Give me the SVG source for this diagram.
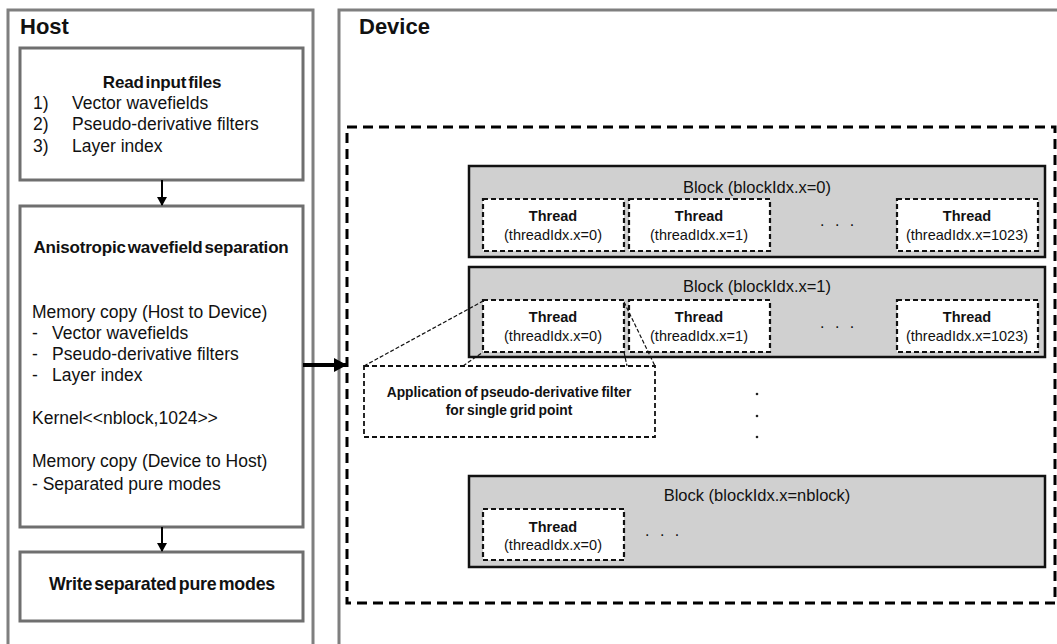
<svg xmlns="http://www.w3.org/2000/svg" width="1057" height="644" viewBox="0 0 1057 644">
  <defs>
    <marker id="headSmall" markerWidth="10" markerHeight="10" refX="8" refY="5" orient="auto" markerUnits="userSpaceOnUse">
      <path d="M0,0 L9,5 L0,10 Z" fill="#000"/>
    </marker>
    <marker id="headBig" markerWidth="14" markerHeight="14" refX="12" refY="7" orient="auto" markerUnits="userSpaceOnUse">
      <path d="M0,0 L13,7 L0,14 Z" fill="#000"/>
    </marker>
  </defs>
  <style>
    .panel { fill: #fff; stroke: #7f7f7f; stroke-width: 3; }
    .step { fill: #fff; stroke: #6f6f6f; stroke-width: 3; }
    .grid { fill: none; stroke: #000; stroke-width: 3; stroke-dasharray: 10 6; }
    .block { fill: #d0d0d0; stroke: #111; stroke-width: 2.5; }
    .thread { fill: #fff; stroke: #111; stroke-width: 2.2; stroke-dasharray: 5 3; }
    .zoom { fill: #fff; stroke: #111; stroke-width: 1.8; stroke-dasharray: 5 3; }
    .zoomline { fill: none; stroke: #111; stroke-width: 1.2; stroke-dasharray: 4 2; }
    text { font-family: "Liberation Sans", Arial, sans-serif; fill: #111; }
    .h { font-size: 22px; font-weight: bold; }
    .t { font-size: 17px; font-weight: bold; word-spacing: -2.5px; letter-spacing: -0.2px; text-anchor: middle; }
    .b { font-size: 17.5px; }
    .blk { font-size: 16.5px; text-anchor: middle; }
    .th { font-size: 14.5px; font-weight: bold; text-anchor: middle; }
    .ti { font-size: 14.5px; text-anchor: middle; }
    .ct { font-size: 13.8px; font-weight: bold; word-spacing: -1px; text-anchor: middle; }
    .dots { font-size: 16px; letter-spacing: 3px; }
    .wire { stroke: #000; stroke-width: 2; fill: none; }
    .wireBig { stroke: #000; stroke-width: 4; fill: none; }
  </style>

  <!-- Host panel -->
  <g id="host">
    <rect class="panel" x="8" y="10" width="305" height="660"/>
    <text class="h" x="20" y="34">Host</text>
  </g>

  <!-- Device panel -->
  <g id="device">
    <rect class="panel" x="339" y="10" width="740" height="660"/>
    <text class="h" x="359" y="34">Device</text>
  </g>

  <g id="read-input">
    <rect class="step" x="20" y="48" width="283" height="132"/>
    <text class="t" x="162" y="88">Read input files</text>
    <text class="b" x="33" y="109">1)</text>
    <text class="b" x="72" y="109">Vector wavefields</text>
    <text class="b" x="33" y="130">2)</text>
    <text class="b" x="72" y="130">Pseudo-derivative filters</text>
    <text class="b" x="33" y="152">3)</text>
    <text class="b" x="72" y="152">Layer index</text>
  </g>

  <g id="separation">
    <rect class="step" x="20" y="206" width="283" height="321"/>
    <text class="t" x="161" y="253">Anisotropic wavefield separation</text>
    <text class="b" x="32" y="318">Memory copy (Host to Device)</text>
    <text class="b" x="32" y="339">-</text>
    <text class="b" x="52" y="339">Vector wavefields</text>
    <text class="b" x="32" y="360">-</text>
    <text class="b" x="52" y="360">Pseudo-derivative filters</text>
    <text class="b" x="32" y="381">-</text>
    <text class="b" x="52" y="381">Layer index</text>
    <text class="b" x="32" y="424">Kernel&lt;&lt;nblock,1024&gt;&gt;</text>
    <text class="b" x="32" y="467">Memory copy (Device to Host)</text>
    <text class="b" x="32" y="490">- Separated pure modes</text>
  </g>

  <g id="write-output">
    <rect class="step" x="20" y="552" width="283" height="69"/>
    <text class="t" x="162" y="590" style="font-size:17.8px">Write separated pure modes</text>
  </g>

  <!-- Grid of blocks -->
  <g id="grid">
    <rect class="grid" x="347" y="127" width="708" height="476"/>
  </g>

  <g id="block-0">
    <rect class="block" x="469" y="166" width="576" height="91"/>
    <text class="blk" x="757" y="193">Block (blockIdx.x=0)</text>
    <rect class="thread" x="483" y="199" width="141" height="52"/>
    <text class="th" x="553" y="221">Thread</text>
    <text class="ti" x="553" y="240">(threadIdx.x=0)</text>
    <rect class="thread" x="629" y="199" width="141" height="52"/>
    <text class="th" x="699" y="221">Thread</text>
    <text class="ti" x="699" y="240">(threadIdx.x=1)</text>
    <text class="dots" x="820" y="226">. . .</text>
    <rect class="thread" x="897" y="199" width="141" height="52"/>
    <text class="th" x="967" y="221">Thread</text>
    <text class="ti" x="967" y="240">(threadIdx.x=1023)</text>
  </g>

  <g id="block-1">
    <rect class="block" x="469" y="267" width="576" height="90"/>
    <text class="blk" x="757" y="292">Block (blockIdx.x=1)</text>
    <rect class="thread" x="483" y="300" width="141" height="52"/>
    <text class="th" x="553" y="322">Thread</text>
    <text class="ti" x="553" y="341">(threadIdx.x=0)</text>
    <rect class="thread" x="629" y="300" width="141" height="52"/>
    <text class="th" x="699" y="322">Thread</text>
    <text class="ti" x="699" y="341">(threadIdx.x=1)</text>
    <text class="dots" x="820" y="328">. . .</text>
    <rect class="thread" x="897" y="300" width="141" height="52"/>
    <text class="th" x="967" y="322">Thread</text>
    <text class="ti" x="967" y="341">(threadIdx.x=1023)</text>
  </g>

  <!-- vertical ellipsis between blocks -->
  <g id="more-blocks">
    <circle cx="757" cy="394" r="1.3" fill="#222"/>
    <circle cx="757" cy="416" r="1.3" fill="#222"/>
    <circle cx="757" cy="437" r="1.3" fill="#222"/>
  </g>

  <g id="block-n">
    <rect class="block" x="469" y="476" width="576" height="91"/>
    <text class="blk" x="757" y="501">Block (blockIdx.x=nblock)</text>
    <rect class="thread" x="483" y="509" width="141" height="51"/>
    <text class="th" x="553" y="532">Thread</text>
    <text class="ti" x="553" y="550">(threadIdx.x=0)</text>
    <text class="dots" x="645" y="536">. . .</text>
  </g>

  <!-- Detail of a single thread -->
  <g id="thread-detail">
    <rect class="zoom" x="364" y="366" width="291" height="71"/>
    <text class="ct" x="509" y="397">Application of pseudo-derivative filter</text>
    <text class="ct" x="509" y="415">for single grid point</text>
  </g>

  <g id="connectors">
    <line class="wire" x1="162" y1="180" x2="162" y2="205" marker-end="url(#headSmall)"/>
    <line class="wire" x1="162" y1="527" x2="162" y2="551" marker-end="url(#headSmall)"/>
    <line class="wireBig" x1="303" y1="365" x2="346" y2="365" marker-end="url(#headBig)"/>
    <line class="zoomline" x1="364" y1="366" x2="485" y2="300"/>
    <line class="zoomline" x1="463" y1="366" x2="483" y2="352"/>
    <line class="zoomline" x1="624" y1="302" x2="655" y2="366"/>
    <line class="zoomline" x1="624" y1="352" x2="627" y2="366"/>
  </g>
</svg>
